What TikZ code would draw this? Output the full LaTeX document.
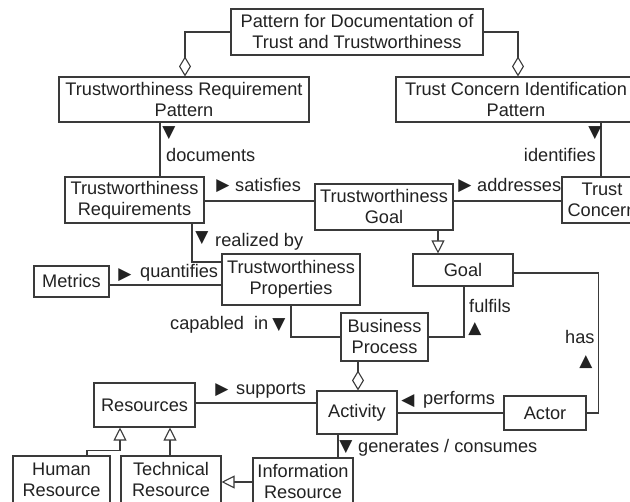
\documentclass[tikz,border=0pt]{standalone}
\usepackage{fontspec}
\setmainfont{Liberation Sans}
\newfontfamily\symf{DejaVu Sans}
\usetikzlibrary{arrows.meta}
\definecolor{ln}{HTML}{3a3a3a}
\definecolor{tx}{HTML}{222222}
\begin{document}
\begin{tikzpicture}[x=1pt,y=1pt,
  box/.style={draw=ln,line width=1.1pt,rectangle,inner sep=0pt,align=center,
    text=tx,font=\fontsize{18.2}{21}\selectfont,minimum width=#1},
  conn/.style={draw=ln,line width=1.1pt},
  agg/.style={conn,-{Diamond[length=20pt,width=12pt,fill=white,line width=1.1pt]}},
  gen/.style={conn,-{Triangle[length=13pt,width=13pt,fill=white,line width=1.1pt]}},
  lbl/.style={inner sep=0pt,text=tx,font=\fontsize{18.2}{21}\selectfont,text height=13pt,text depth=4pt},
  tri/.style={inner sep=0pt,text=tx,font=\symf\fontsize{17}{17}\selectfont}]
\useasboundingbox (0,0) rectangle (630,502);
\fill[white] (0,0) rectangle (630,502);

% boxes
\node[box=252pt,minimum height=46pt] (pd) at (357,470) {Pattern for Documentation of\\Trust and Trustworthiness};
\node[box=250pt,minimum height=45pt] (trp) at (184,402.5) {Trustworthiness Requirement\\Pattern};
\node[box=240pt,minimum height=45pt] (tcip) at (516,402.5) {Trust Concern Identification\\Pattern};
\node[box=139pt,minimum height=46pt] (tr) at (134.5,302) {Trustworthiness\\Requirements};
\node[box=138pt,minimum height=46pt] (tg) at (384,295) {Trustworthiness\\Goal};
\node[box=80pt,minimum height=46pt] (tc) at (602,302) {Trust\\Concern};
\node[box=100pt,minimum height=32pt] (goal) at (463,232) {Goal};
\node[box=138pt,minimum height=51pt] (tp) at (291,222.5) {Trustworthiness\\Properties};
\node[box=75pt,minimum height=31pt] (metrics) at (71.5,220.5) {Metrics};
\node[box=87pt,minimum height=48pt] (bp) at (384.5,165) {Business\\Process};
\node[box=80pt,minimum height=43pt] (activity) at (357,89.5) {Activity};
\node[box=82pt,minimum height=34pt] (actor) at (545,89) {Actor};
\node[box=101pt,minimum height=44pt] (resources) at (144.5,97) {Resources};
\node[box=97pt,minimum height=48pt] (human) at (61.5,22) {Human\\Resource};
\node[box=100pt,minimum height=48pt] (technical) at (171,22) {Technical\\Resource};
\node[box=100pt,minimum height=48pt] (information) at (303,20) {Information\\Resource};

% connectors
\draw[agg] (pd.west) -| ([xshift=1pt]trp.north);
\draw[agg] (pd.east) -| ([xshift=2pt]tcip.north);
\draw[conn] ([xshift=-24pt]trp.south) -- ([xshift=-24pt]trp.south |- tr.north);
\draw[conn] ([xshift=85pt]tcip.south) -- ([xshift=85pt]tcip.south |- tc.north);
\draw[conn] ([yshift=-1pt]tr.east) -- ([yshift=-1pt]tr.east -| tg.west);
\draw[conn] ([yshift=-1pt]tc.west -| tg.east) -- ([yshift=-1pt]tc.west);
\draw[gen] ([xshift=54pt]tg.south) -- ([xshift=54pt]tg.south |- goal.north);
\draw[conn] ([xshift=57.5pt]tr.south) |- ([yshift=17.5pt]tp.west);
\draw[conn] ([yshift=-3.5pt]metrics.east) -- ([yshift=-3.5pt]metrics.east -| tp.west);
\draw[conn] (tp.south) |- (bp.west);
\draw[conn] ([xshift=1pt]goal.south) |- (bp.east);
\draw[conn] ([yshift=-3pt]goal.east) -| ([xshift=12pt]actor.east) -- (actor.east);
\draw[conn] (actor.west) -- (actor.west -| activity.east);
\draw[agg] ([xshift=-26.5pt]bp.south) -- ([xshift=-26.5pt]bp.south |- activity.north);
\draw[conn] ([yshift=2pt]resources.east) -- ([yshift=2pt]resources.east -| activity.west);
\draw[conn] ([xshift=-19pt]activity.south) -- ([xshift=-19pt]activity.south |- information.north);
\draw[gen] ([xshift=25.5pt]human.north) -- ++(0,5) -| ([xshift=-24.5pt]resources.south);
\draw[gen] ([xshift=-1pt]technical.north) -- ([xshift=-1pt]technical.north |- resources.south);
\draw[gen] (information.west) -- (information.west -| technical.east);

% labels
\node[tri] (t1) at (169,369) {▼};
\node[lbl,anchor=west] (l1) at (166,345) {documents};
\node[tri] (t2) at (595,369) {▼};
\node[lbl,anchor=east] (l2) at (596,345) {identifies};
\node[tri] (t3) at (223,316) {▶};
\node[lbl,anchor=west] (l3) at (235,315) {satisfies};
\node[tri] (t4) at (465,316) {▶};
\node[lbl,anchor=west] (l4) at (477,315) {addresses};
\node[tri] (t5) at (202,264) {▼};
\node[lbl,anchor=west] (l5) at (215,260) {realized by};
\node[tri] (t6) at (125,227) {▶};
\node[lbl,anchor=west] (l6) at (140,229) {quantifies};
\node[lbl,anchor=west] (l7) at (170,177) {capabled\ \ in};
\node[tri] (t7) at (279,177) {▼};
\node[lbl,anchor=west] (l8) at (469,194) {fulfils};
\node[tri] (t8) at (475,173) {▲};
\node[lbl,anchor=west] (l9) at (565,163) {has};
\node[tri] (t9) at (586,140) {▲};
\node[tri] (t10) at (408,101) {◀};
\node[lbl,anchor=west] (l10) at (423,102) {performs};
\node[tri] (t11) at (222,112) {▶};
\node[lbl,anchor=west] (l11) at (236,112) {supports};
\node[tri] (t12) at (346,55) {▼};
\node[lbl,anchor=west] (l12) at (358,54) {generates / consumes};
\end{tikzpicture}
\end{document}
